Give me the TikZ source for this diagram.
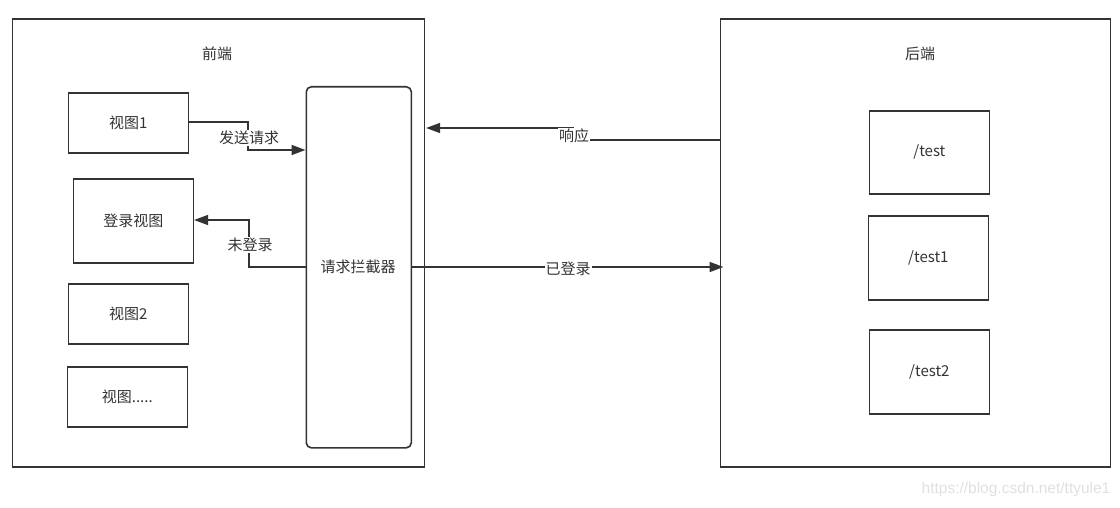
\documentclass[tikz,border=0pt]{standalone}
\usepackage{fontspec}
\setmainfont{Liberation Sans}
\newfontfamily\cjk{Noto Sans CJK SC}
\usetikzlibrary{arrows.meta}
\definecolor{ln}{HTML}{333333}
\tikzset{
  box/.style={draw=ln,line width=1.6pt,fill=white},
  lbl/.style={font=\cjk\fontsize{15}{17}\selectfont,text=ln,inner sep=1pt},
  conn/.style={draw=ln,line width=1.6pt,-{Triangle[length=14pt,width=10pt]}},
  tag/.style={lbl,fill=white}
}
\begin{document}
\begin{tikzpicture}[x=1pt,y=-1pt]
\useasboundingbox (0,0) rectangle (1120,508);
% containers
\node[box,minimum width=412pt,minimum height=448pt,anchor=north west,inner sep=0] (fe) at (11.5,18) {};
\node[box,minimum width=390pt,minimum height=448pt,anchor=north west,inner sep=0] (be) at (719.5,18) {};
\node[lbl] (fet) at (217,54) {前端};
\node[lbl] (bet) at (920,54) {后端};
% interceptor
\node[box,rounded corners=5pt,minimum width=105pt,minimum height=361pt,anchor=north west,inner sep=0] (ic) at (305.5,86) {};
\node[lbl] (ict) at (358,267) {请求拦截器};
% views
\node[box,minimum width=120pt,minimum height=60pt,anchor=north west,inner sep=0] (v1) at (67.5,92) {};
\node[lbl] at (v1.center) {视图1};
\node[box,minimum width=120pt,minimum height=84pt,anchor=north west,inner sep=0] (lv) at (72.5,178) {};
\node[lbl] at (lv.center) {登录视图};
\node[box,minimum width=120pt,minimum height=60pt,anchor=north west,inner sep=0] (v2) at (67.5,283) {};
\node[lbl] at (v2.center) {视图2};
\node[box,minimum width=120pt,minimum height=60pt,anchor=north west,inner sep=0] (v3) at (66.5,366) {};
\node[lbl] at (v3.center) {视图.....};
% backend routes
\node[box,minimum width=120pt,minimum height=83pt,anchor=north west,inner sep=0] (t0) at (868.5,110) {};
\node[lbl] at (t0.center) {/test};
\node[box,minimum width=120pt,minimum height=84pt,anchor=north west,inner sep=0] (t1) at (867.5,215) {};
\node[lbl] at (t1.center) {/test1};
\node[box,minimum width=120pt,minimum height=84pt,anchor=north west,inner sep=0] (t2) at (868.5,329) {};
\node[lbl] at (t2.center) {/test2};
% connectors
\coordinate (a1) at (248,122);
\coordinate (a2) at (248,150);
\draw[conn] (v1.east |- a1) -- (a1) -- (a2) -- (ic.west |- a2);
\node[tag] at (249,138) {发送请求};
\coordinate (b1) at (249,267);
\coordinate (b2) at (249,220);
\draw[conn] (ic.west |- b1) -- (b1) -- (b2) -- (lv.east |- b2);
\node[tag] at (250,245) {未登录};
\coordinate (c1) at (573,140);
\coordinate (c2) at (573,128);
\draw[conn] (be.west |- c1) -- (c1) -- (c2) -- ([xshift=1pt]fe.east |- c2);
\node[tag] at (574,136) {响应};
\draw[conn] (ic.east |- 0,267) -- ([xshift=4pt]be.west |- 0,267);
\node[tag] at (568,269) {已登录};
% watermark
\node[font=\fontsize{15.5}{17}\selectfont,text=black!12] (wm) at (1016,489) {https://blog.csdn.net/ttyule1};
\end{tikzpicture}
\end{document}
